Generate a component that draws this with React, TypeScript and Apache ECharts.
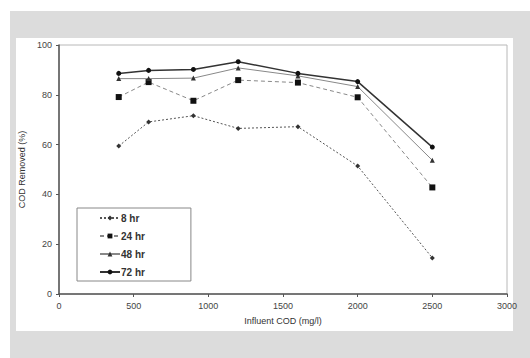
import React, { useEffect, useRef } from "react";
import * as echarts from "echarts";

const xValues = [400, 600, 900, 1200, 1600, 2000, 2500];
const series8 = [59.4, 69.1, 71.6, 66.5, 67.2, 51.4, 14.5];
const series24 = [79.1, 85.1, 77.6, 85.9, 84.9, 79.0, 42.8];
const series48 = [86.5, 86.5, 86.7, 90.8, 87.6, 83.3, 53.7];
const series72 = [88.6, 89.8, 90.2, 93.3, 88.6, 85.3, 59.0];
const seriesNames = ["8 hr", "24 hr", "48 hr", "72 hr"];

const pair = (ys: number[]) => xValues.map((x, i) => [x, ys[i]]);

export default function App() {
  const ref = useRef<HTMLDivElement>(null);
  useEffect(() => {
    if (!ref.current) return;
    const chart = echarts.init(ref.current, undefined, { renderer: "svg" });
    const font = "Liberation Sans, Arial, sans-serif";
    chart.setOption({
      animation: false,
      backgroundColor: "#ffffff",
      graphic: [
        { type: "rect", z: -10, silent: true, shape: { x: 10, y: 11, width: 520, height: 347 }, style: { fill: "#dcdcdc" } },
        { type: "rect", z: -9, silent: true, shape: { x: 16, y: 38, width: 497, height: 293 }, style: { fill: "#ffffff" } },
      ],
      grid: {
        left: 59, top: 45, right: 23, bottom: 64,
        show: true, borderColor: "#b8b8b8", borderWidth: 1, backgroundColor: "transparent",
      },
      legend: {
        orient: "vertical",
        left: 77, top: 208,
        padding: [5, 46, 4, 22],
        itemGap: 8,
        itemWidth: 20,
        itemHeight: 6,
        borderColor: "#888",
        borderWidth: 1,
        backgroundColor: "#fff",
        textStyle: { fontFamily: font, fontSize: 10, fontWeight: "bold", color: "#333", padding: [0, 0, 0, -4] },
        data: seriesNames,
      },
      xAxis: {
        type: "value", min: 0, max: 3000, interval: 500,
        name: "Influent COD (mg/l)", nameLocation: "middle", nameGap: 22,
        nameTextStyle: { fontFamily: font, fontSize: 9, color: "#333" },
        axisLine: { lineStyle: { color: "#555", width: 1.5 } },
        axisTick: { show: true, length: 3, lineStyle: { color: "#555" } },
        axisLabel: { fontFamily: font, fontSize: 9, color: "#444", margin: 7, formatter: (v: number) => String(v) },
        splitLine: { show: false },
      },
      yAxis: {
        type: "value", min: 0, max: 100, interval: 20,
        name: "COD Removed (%)", nameLocation: "middle", nameGap: 30, nameRotate: 90,
        nameTextStyle: { fontFamily: font, fontSize: 9, color: "#333" },
        axisLine: { show: true, lineStyle: { color: "#555", width: 1.5 } },
        axisTick: { show: true, length: 3, lineStyle: { color: "#555" } },
        axisLabel: { fontFamily: font, fontSize: 9, color: "#444", margin: 7, formatter: (v: number) => String(v) },
        splitLine: { show: false },
      },
      series: [
        {
          name: "8 hr", type: "line", data: pair(series8),
          symbol: "diamond", symbolSize: 5,
          lineStyle: { color: "#555", width: 1, type: [2, 2] },
          itemStyle: { color: "#333" },
        },
        {
          name: "24 hr", type: "line", data: pair(series24),
          symbol: "rect", symbolSize: 6,
          lineStyle: { color: "#888", width: 1, type: [4, 3] },
          itemStyle: { color: "#111" },
        },
        {
          name: "48 hr", type: "line", data: pair(series48),
          symbol: "triangle", symbolSize: 5,
          lineStyle: { color: "#888", width: 1 },
          itemStyle: { color: "#333" },
        },
        {
          name: "72 hr", type: "line", data: pair(series72),
          symbol: "circle", symbolSize: 5,
          lineStyle: { color: "#333", width: 1.5 },
          itemStyle: { color: "#111" },
        },
      ],
    });
    return () => chart.dispose();
  }, []);
  return (
    <div
      ref={ref}
      style={{ position: "absolute", left: 0, top: 0, width: 530, height: 358 }}
    />
  );
}
